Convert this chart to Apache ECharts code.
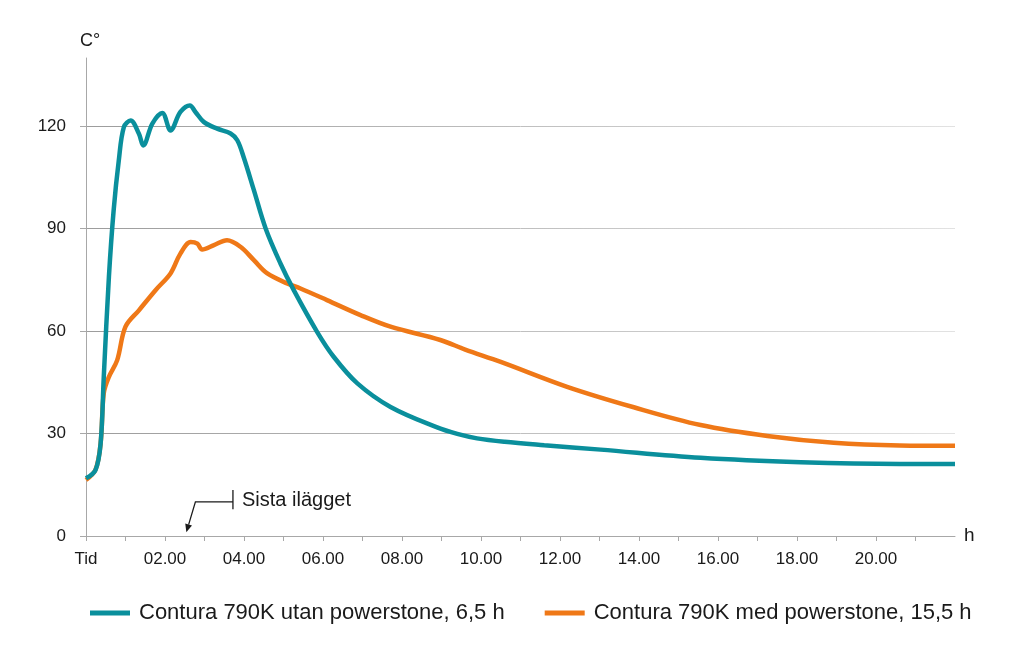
<!DOCTYPE html>
<html><head><meta charset="utf-8">
<script src="https://cdn.jsdelivr.net/npm/echarts@6/dist/echarts.min.js"></script>
<style>html,body{margin:0;padding:0;background:#fff}#c{width:1010px;height:650px}</style>
</head><body><div id="c"></div>
<script>
// ---- data ----
const seriesNames = ['Contura 790K utan powerstone, 6,5 h', 'Contura 790K med powerstone, 15,5 h'];
const tealHours = [0, 0.24, 0.37, 0.45, 0.58, 0.70, 0.83, 0.96, 1.13, 1.34, 1.45, 1.68, 1.93, 2.14, 2.39, 2.63, 2.77, 2.98, 3.32, 3.66, 3.83, 3.99, 4.25, 4.55, 4.92, 5.26, 5.85, 6.27, 6.87, 7.71, 8.89, 9.4, 9.9, 10.6, 11.6, 13.03, 15.56, 18.1, 20.6, 22];
const tealTemps = [16.9, 19.3, 27.1, 46.6, 75.9, 95.4, 110, 119.8, 121.7, 117.8, 114.4, 120.8, 123.9, 118.8, 124.2, 126.1, 124.2, 121.3, 119.3, 117.9, 115.9, 111, 101.3, 90, 79.9, 72, 59.8, 52.5, 44.7, 37.8, 31.8, 29.9, 28.6, 27.6, 26.6, 25.3, 22.9, 21.6, 21.1, 21.1];
const orangeHours = [0, 0.24, 0.37, 0.45, 0.58, 0.79, 1.0, 1.34, 1.76, 2.14, 2.39, 2.65, 2.82, 2.94, 3.24, 3.57, 3.91, 4.25, 4.59, 5.09, 5.43, 6.1, 6.95, 7.71, 8.97, 9.6, 10.5, 12.18, 13.87, 15.56, 17.25, 18.93, 20.6, 22];
const orangeTemps = [16.4, 19.4, 27.1, 41.8, 46.6, 51.5, 61.3, 66.1, 72, 76.9, 82.7, 86.1, 85.6, 83.9, 85.2, 86.6, 84.7, 80.8, 76.9, 74, 72.5, 69.1, 64.7, 61.3, 57.4, 54.6, 51, 43.7, 37.7, 32.5, 29.3, 27.3, 26.5, 26.4];
const xTickHours = [0,1,2,3,4,5,6,7,8,9,10,11,12,13,14,15,16,17,18,19,20,21];
const xLabelHours = [0,2,4,6,8,10,12,14,16,18,20];
const firstXLabel = 'Tid';
const yTickValues = [0, 30, 60, 90, 120];
const yAxisName = 'C°';
const xAxisName = 'h';
const annotationText = 'Sista ilägget';
// annotation anchor points in data coordinates [hour, temp]
const annArrowTip = [2.54, 1.1];
const annElbow = [2.77, 10.0];
const annBarTop = [3.72, 13.5];
const annBarBottom = [3.72, 7.8];
const annTextAt = [3.95, 10.3];

// ---- chart ----
const TEAL = '#0a8f9c', ORANGE = '#ef7817';
const FONT = 'Liberation Sans, Arial, sans-serif';
const zip = (xs, ys) => xs.map((x, i) => [x, ys[i]]);
const grad = () => new echarts.graphic.LinearGradient(0, 0, 1, 0, [{offset: 0, color: '#9c9c9c'}, {offset: 1, color: '#e2e2e2'}]);

const chart = echarts.init(document.getElementById('c'), null, {renderer: 'canvas'});
const option = {
  animation: false,
  backgroundColor: '#fff',
  textStyle: {fontFamily: FONT},
  grid: {left: 86, right: 55, top: 58, bottom: 114, containLabel: false},
  legend: {
    left: 85, top: 597, itemWidth: 40, itemHeight: 5, itemGap: 40, icon: 'rect',
    textStyle: {fontSize: 22, color: '#1a1a1a', fontFamily: FONT, padding: [0, 0, 0, 4]},
    data: seriesNames
  },
  xAxis: {
    type: 'value', min: 0, max: 22, interval: 1,
    name: xAxisName, nameLocation: 'end', nameGap: 9,
    nameTextStyle: {fontSize: 19, color: '#1a1a1a', verticalAlign: 'middle'},
    axisLine: {lineStyle: {color: '#a8a8a8', width: 1}},
    axisTick: {show: true, length: 5, lineStyle: {color: '#a8a8a8'}, customValues: xTickHours},
    axisLabel: {
      fontSize: 17, color: '#1a1a1a', margin: 15, customValues: xLabelHours,
      formatter: v => v === 0 ? firstXLabel : (v < 10 ? '0' + v : '' + v) + '.00'
    },
    splitLine: {show: false}
  },
  yAxis: {
    type: 'value', min: 0, max: 140, interval: 30,
    name: yAxisName, nameLocation: 'end', nameGap: 8,
    nameTextStyle: {fontSize: 18, color: '#1a1a1a', align: 'left', padding: [0, 0, 0, -6]},
    axisLine: {show: true, lineStyle: {color: '#a8a8a8', width: 1}},
    axisTick: {show: true, length: 6, lineStyle: {color: '#a8a8a8'}, customValues: yTickValues},
    axisLabel: {fontSize: 17, color: '#1a1a1a', margin: 20, customValues: yTickValues},
    splitLine: {show: true, lineStyle: {width: 1, color: [grad(), grad(), grad(), grad(), grad(), 'rgba(0,0,0,0)']}}
  },
  series: [
    {name: seriesNames[0], type: 'line', data: zip(tealHours, tealTemps), smooth: 0.35, showSymbol: false,
     lineStyle: {color: TEAL, width: 4.5}, itemStyle: {color: TEAL}, z: 3},
    {name: seriesNames[1], type: 'line', data: zip(orangeHours, orangeTemps), smooth: 0.35, showSymbol: false,
     lineStyle: {color: ORANGE, width: 4.5}, itemStyle: {color: ORANGE}, z: 2}
  ]
};
chart.setOption(option);

// annotation positioned through the chart's own scales
const px = p => chart.convertToPixel({gridIndex: 0}, p);
const tip = px(annArrowTip), elbow = px(annElbow), bt = px(annBarTop), bb = px(annBarBottom), tx = px(annTextAt);
const dx = tip[0] - elbow[0], dy = tip[1] - elbow[1], L = Math.hypot(dx, dy);
const ux = dx / L, uy = dy / L, hl = 8, hw = 3.5;
const base = [tip[0] - ux * hl, tip[1] - uy * hl];
chart.setOption({
  graphic: [
    {type: 'polyline', shape: {points: [[bt[0], elbow[1]], elbow, base]}, style: {stroke: '#1a1a1a', lineWidth: 1.3, fill: null}, silent: true},
    {type: 'polygon', shape: {points: [tip, [base[0] - uy * hw, base[1] + ux * hw], [base[0] + uy * hw, base[1] - ux * hw]]}, style: {fill: '#1a1a1a'}, silent: true},
    {type: 'line', shape: {x1: bt[0], y1: bt[1], x2: bb[0], y2: bb[1]}, style: {stroke: '#1a1a1a', lineWidth: 1.3}, silent: true},
    {type: 'text', x: tx[0], y: tx[1], style: {text: annotationText, font: '20px ' + FONT, fill: '#1a1a1a', verticalAlign: 'middle', align: 'left'}, silent: true}
  ]
});
</script>
</body></html>
